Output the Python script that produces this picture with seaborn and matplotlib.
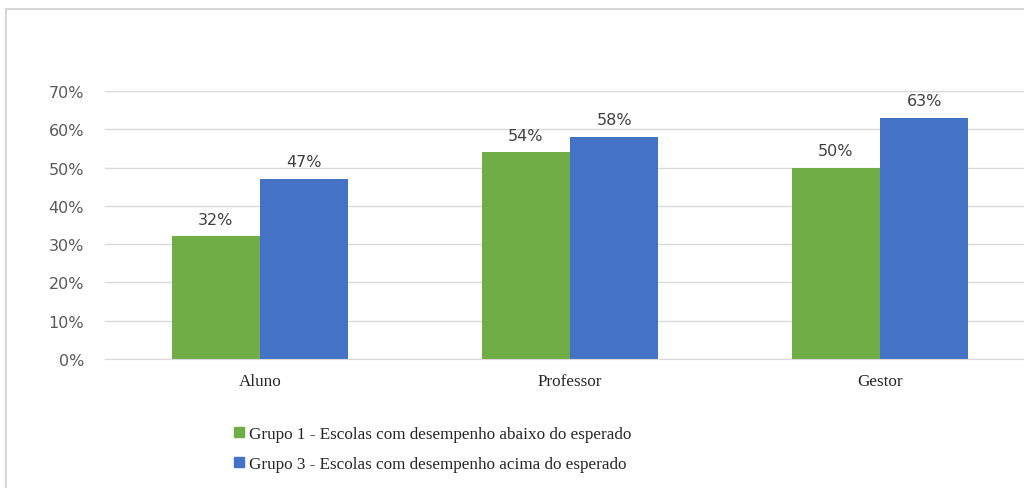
import matplotlib
matplotlib.use("Agg")
import matplotlib.pyplot as plt
import matplotlib.patches as mpatches
from matplotlib.ticker import FuncFormatter
import seaborn as sns
import pandas as pd

categories = ["Aluno", "Professor", "Gestor"]
series_names = ["Grupo 1 - Escolas com desempenho abaixo do esperado",
                "Grupo 3 - Escolas com desempenho acima do esperado"]
grupo1 = [0.32, 0.54, 0.50]
grupo3 = [0.47, 0.58, 0.63]
value_labels_g1 = ["32%", "54%", "50%"]
value_labels_g3 = ["47%", "58%", "63%"]
yticks = [0, 0.1, 0.2, 0.3, 0.4, 0.5, 0.6, 0.7]

colors = ["#70AD47", "#4472C4"]

df = pd.DataFrame({
    "cat": categories * 2,
    "grupo": [series_names[0]] * 3 + [series_names[1]] * 3,
    "val": grupo1 + grupo3,
})

sns.set_style("white")
serif = ["Liberation Serif", "DejaVu Serif"]
sans = ["DejaVu Sans"]

fig = plt.figure(figsize=(10.24, 4.89), dpi=100)
ax = fig.add_axes([105/1024, 1-360/489, 930/1024, (360-92)/489])

sns.barplot(data=df, x="cat", y="val", hue="grupo", palette=colors,
            width=0.57, ax=ax, legend=False, saturation=1, linewidth=0)

ax.set_xlim(-0.5, 2.5)
ax.set_ylim(0, 0.7)
ax.set_yticks(yticks)
ax.yaxis.set_major_formatter(FuncFormatter(lambda v, p: f"{v*100:.0f}%"))
ax.grid(axis="y", color="#D9D9D9", linewidth=1)
ax.set_axisbelow(True)
for s in ["top", "right", "left"]:
    ax.spines[s].set_visible(False)
ax.spines["bottom"].set_color("#D9D9D9")
ax.tick_params(axis="y", length=0, pad=15, labelsize=11.5, labelcolor="#595959")
ax.tick_params(axis="x", length=0, pad=10, labelsize=12.3, labelcolor="#262626")
for t in ax.get_yticklabels():
    t.set_family(sans)
for t in ax.get_xticklabels():
    t.set_family(serif)
ax.set_xlabel("")
ax.set_ylabel("")

for cont, labels in zip(ax.containers, [value_labels_g1, value_labels_g3]):
    ax.bar_label(cont, labels=labels, padding=7, fontsize=11.5, color="#404040",
                 family=sans)

handles = [mpatches.Patch(color=c, label=n) for c, n in zip(colors, series_names)]
fig.legend(handles=handles, loc="center left", bbox_to_anchor=(219/1024, 1-450/489),
           frameon=False, prop={"family": serif, "size": 12.3},
           handlelength=0.55, handleheight=0.55, handletextpad=0.3,
           labelspacing=0.85, labelcolor="#262626")

# chart frame
fig.patches.append(mpatches.Rectangle((6/1024, -0.1), 1.2, 1 - 10/489 + 0.1,
                                      transform=fig.transFigure, fill=False,
                                      edgecolor="#D0D0D0", linewidth=1.2))

fig.savefig("out.png", dpi=100)
